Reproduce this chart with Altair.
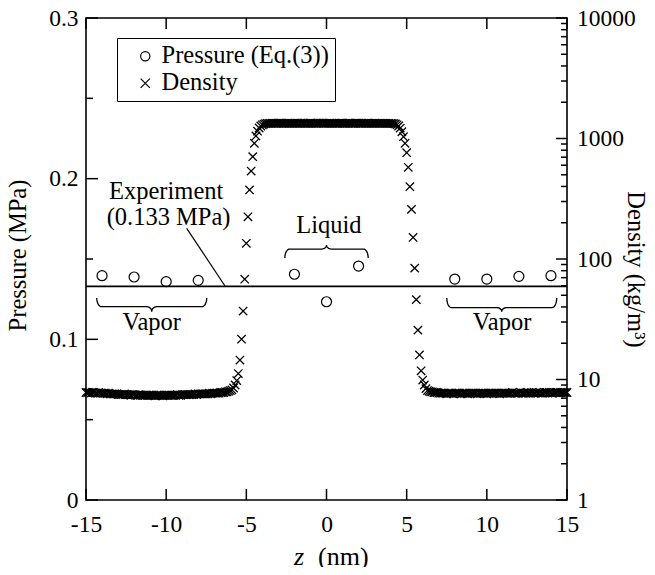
import math
import altair as alt
import pandas as pd

FONT = "'Liberation Serif', 'Times New Roman', Times, 'DejaVu Serif', serif"

# ---------------- data ----------------
pressure_z = [-14, -12, -10, -8, -2, 0, 2, 8, 10, 12, 14]
pressure_mpa = [0.1396, 0.1388, 0.1359, 0.1367, 0.1405, 0.1234, 0.1456,
                0.1375, 0.1375, 0.1392, 0.1396]

experiment_mpa = [0.133]

# density profile, sampled every 0.1 nm from z = -15.0 to 15.0
density_z_start = -15.0
density_z_step = 0.1
density_vapor_left = [
    7.8, 7.8, 7.8, 7.7, 7.8, 7.8, 7.7, 7.7, 7.8, 7.7, 7.7, 7.7, 7.7, 7.6, 7.7, 7.6, 7.6, 7.6, 7.6, 7.6, 7.5,
    7.5, 7.5, 7.5, 7.6, 7.5, 7.5, 7.5, 7.4, 7.5, 7.5, 7.4, 7.4, 7.5, 7.4, 7.4, 7.4, 7.4, 7.4, 7.4, 7.4,
    7.4, 7.4, 7.3, 7.4, 7.4, 7.4, 7.4, 7.3, 7.4, 7.4, 7.4, 7.4, 7.4, 7.4, 7.4, 7.4, 7.5, 7.4, 7.4, 7.5,
    7.5, 7.5, 7.5, 7.5, 7.5, 7.5, 7.5, 7.6, 7.5, 7.6, 7.6, 7.6, 7.6, 7.6, 7.6, 7.6, 7.7, 7.6, 7.7, 7.7,
    7.7, 7.7, 7.7, 7.8, 7.8, 7.8, 7.9, 7.9, 8.0, 8.1,
]
density_interface_left = [
    8.2, 8.5, 9.0, 9.8, 11.2, 14.5, 21.6, 37, 68, 135, 224, 374, 537, 706, 912,
    1050, 1150, 1222, 1270, 1300, 1318, 1328, 1333,
]
density_liquid = [
    1336, 1337, 1338, 1337, 1336, 1337, 1338, 1339, 1338, 1337,
    1336, 1337, 1338, 1337, 1336, 1335, 1336, 1337, 1338, 1337,
    1338, 1339, 1338, 1337, 1336, 1337, 1338, 1337, 1336, 1337,
    1338, 1339, 1340, 1339, 1338, 1337, 1336, 1337, 1338, 1337,
    1336, 1335, 1336, 1337, 1338, 1339, 1338, 1337, 1336, 1337,
    1338, 1337, 1336, 1337, 1338, 1339, 1338, 1337, 1338, 1337,
    1336, 1337, 1338, 1337, 1336, 1337, 1338, 1337, 1336, 1335,
    1336, 1337, 1336, 1335, 1334, 1335, 1334, 1333,
]
density_interface_right = [
    1330, 1320, 1300, 1270, 1220, 1138, 1035, 912, 762, 577, 398, 258, 151,
    84, 46, 25.7, 16.0, 11.8, 9.9, 9.0, 8.4,
]
density_vapor_right = [
    8.1, 8.0, 7.9, 7.9, 7.8, 7.8, 7.8, 7.7, 7.7, 7.7,
    7.7, 7.7, 7.6, 7.7, 7.7, 7.7, 7.6, 7.7, 7.7, 7.7, 7.7, 7.6, 7.7, 7.7, 7.7, 7.6, 7.7, 7.7, 7.7, 7.7,
    7.7, 7.6, 7.7, 7.7, 7.7, 7.7, 7.7, 7.6, 7.7, 7.7, 7.7, 7.7, 7.7, 7.7, 7.7, 7.6, 7.7, 7.7, 7.7, 7.7,
    7.7, 7.7, 7.7, 7.8, 7.7, 7.7, 7.7, 7.7, 7.8, 7.7, 7.7, 7.7, 7.8, 7.7, 7.7, 7.8, 7.7, 7.7, 7.8, 7.7,
    7.8, 7.7, 7.7, 7.8, 7.8, 7.7, 7.8, 7.8, 7.7, 7.8, 7.8, 7.8, 7.7, 7.8, 7.8, 7.8, 7.8, 7.8,
]

# axis ticks
x_ticks = [-15, -10, -5, 0, 5, 10, 15]
pressure_major = [0, 0.1, 0.2, 0.3]
pressure_minor = [0.05, 0.15, 0.25]
density_major = [1, 10, 100, 1000, 10000]
density_minor = [2, 3, 4, 5, 6, 7, 8, 9,
                 20, 30, 40, 50, 60, 70, 80, 90,
                 200, 300, 400, 500, 600, 700, 800, 900,
                 2000, 3000, 4000, 5000, 6000, 7000, 8000, 9000]

# annotations
note_text = ["Experiment", "(0.133 MPa)", "Liquid", "Vapor", "Vapor"]
note_z = [-10.0, -9.85, 0.15, -10.9, 10.95]
note_p = [0.1873, 0.1712, 0.1662, 0.1055, 0.1055]

pointer_z = [-8.72, -6.33]
pointer_p = [0.1691, 0.1332]

brace_z0 = [-14.33, -2.6, 7.5]
brace_z1 = [-7.47, 2.6, 14.36]
brace_p_end = [0.1257, 0.1506, 0.1257]
brace_p_bar = [0.1203, 0.1562, 0.1197]
brace_p_tip = [0.1172, 0.1587, 0.1172]
brace_radius = 0.3

series_names = ["Pressure (Eq.(3))", "Density"]
CROSS = "M-1,-1L1,1M1,-1L-1,1"

# ---------------- tables ----------------
density_values = (density_vapor_left + density_interface_left + density_liquid
                  + density_interface_right + density_vapor_right)
density_z = [round(density_z_start + density_z_step * i, 1) for i in range(len(density_values))]

pressure_df = pd.DataFrame({"z": pressure_z, "p": pressure_mpa, "series": series_names[0]})
density_df = pd.DataFrame({"z": density_z, "rho": density_values, "series": series_names[1]})


def brace_points(z0, z1, pe, pb, pt, r, n=8):
    c = (z0 + z1) / 2.0
    half = []
    for k in range(n + 1):
        t = (math.pi / 2) * k / n
        half.append((z0 + r * (1 - math.cos(t)), pe + (pb - pe) * math.sin(t)))
    for k in range(n + 1):
        t = (math.pi / 2) * k / n
        half.append((c - r + r * math.sin(t), pb + (pt - pb) * (1 - math.cos(t))))
    return half + [(2 * c - zz, pp) for (zz, pp) in reversed(half)]


brace_rows = []
for b in range(len(brace_z0)):
    pts = brace_points(brace_z0[b], brace_z1[b], brace_p_end[b], brace_p_bar[b],
                       brace_p_tip[b], brace_radius)
    for i, (zz, pp) in enumerate(pts):
        brace_rows.append({"id": b, "i": i, "z": zz, "p": pp})
brace_df = pd.DataFrame(brace_rows)

notes_df = pd.DataFrame({"text": note_text, "z": note_z, "p": note_p})
pointer_df = pd.DataFrame({"z": pointer_z, "p": pointer_p})

# ---------------- scales / axes ----------------
x_scale = alt.Scale(domain=[-15, 15], nice=False, zero=False)
p_scale = alt.Scale(domain=[0, 0.3], nice=False, zero=False)
d_scale = alt.Scale(type="log", domain=[1, 10000], nice=False)
shape_scale = alt.Scale(domain=series_names, range=["circle", CROSS])

W, H = 481, 482

legend = alt.Legend(
    title=None, orient="none", legendX=31, legendY=20,
    strokeColor="black", fillColor="white", padding=6,
    symbolOffset=10, labelOffset=4, labelFont=FONT, labelFontSize=24.5,
    labelColor="black", labelLimit=400, symbolSize=85, symbolStrokeWidth=1.2,
    symbolStrokeColor="black", symbolFillColor="transparent", rowPadding=2,
)

x_axis = alt.Axis(
    orient="bottom", values=x_ticks, ticks=False, domain=False, grid=False,
    labelFont=FONT, labelFontSize=23.5, labelColor="black", labelPadding=12,
    labelFlush=False, labelOverlap=False,
    labelExpr="replace(datum.label, '\u2212', '-')", title=None,
)

p_axis = alt.Axis(
    orient="left", values=pressure_major, format="~g", ticks=False, domain=False,
    grid=False, labelFont=FONT, labelFontSize=23.5, labelColor="black",
    labelPadding=8, labelFlush=False, labelOverlap=False,
    title="Pressure (MPa)", titleFont=FONT, titleFontSize=24.5, titleFontWeight="normal",
    titleColor="black", titleAngle=-90, titleX=-61, titleY=237, titleAlign="center",
    titleBaseline="alphabetic",
)

d_axis = alt.Axis(
    orient="right", values=density_major, format="d", ticks=False, domain=False,
    grid=False, labelFont=FONT, labelFontSize=23.5, labelColor="black",
    labelPadding=9.5, labelFlush=False, labelOverlap=False,
    title="Density (kg/m\u00b3)", titleFont=FONT, titleFontSize=24.5,
    titleFontWeight="normal", titleColor="black", titleAngle=90, titleX=60,
    titleY=251, titleAlign="center", titleBaseline="alphabetic",
)


def X(field):
    return alt.X(field, scale=x_scale, axis=x_axis)


# ---------------- layers ----------------
def rule_df(vals):
    return pd.DataFrame({"t": vals})


x_tick_top = alt.Chart(rule_df(x_ticks)).mark_rule(color="black", strokeWidth=1.5).encode(
    x=X("t:Q"), y=alt.value(0), y2=alt.value(11))
x_tick_bot = alt.Chart(rule_df(x_ticks)).mark_rule(color="black", strokeWidth=1.5).encode(
    x=X("t:Q"), y=alt.value(H), y2=alt.value(H - 11))
p_tick_major = alt.Chart(rule_df(pressure_major)).mark_rule(color="black", strokeWidth=1.5).encode(
    y=alt.Y("t:Q", scale=p_scale, axis=None), x=alt.value(0), x2=alt.value(12))
p_tick_minor = alt.Chart(rule_df(pressure_minor)).mark_rule(color="black", strokeWidth=1.5).encode(
    y=alt.Y("t:Q", scale=p_scale, axis=None), x=alt.value(0), x2=alt.value(7))
d_tick_major = alt.Chart(rule_df(density_major)).mark_rule(color="black", strokeWidth=1.5).encode(
    y=alt.Y("t:Q", scale=d_scale, axis=None), x=alt.value(W), x2=alt.value(W - 11))
d_tick_minor = alt.Chart(rule_df(density_minor)).mark_rule(color="black", strokeWidth=1.5).encode(
    y=alt.Y("t:Q", scale=d_scale, axis=None), x=alt.value(W), x2=alt.value(W - 6))

exp_line = alt.Chart(pd.DataFrame({"p": experiment_mpa})).mark_rule(
    color="black", strokeWidth=1.8).encode(y=alt.Y("p:Q", scale=p_scale, axis=None))

pointer = alt.Chart(pointer_df).mark_line(color="black", strokeWidth=1.2).encode(
    x=X("z:Q"), y=alt.Y("p:Q", scale=p_scale, axis=None))

braces = alt.Chart(brace_df).mark_line(color="black", strokeWidth=1.3).encode(
    x=X("z:Q"), y=alt.Y("p:Q", scale=p_scale, axis=None),
    detail="id:N", order="i:Q")

notes = alt.Chart(notes_df).mark_text(
    font=FONT, fontSize=24.5, color="black", align="center", baseline="alphabetic").encode(
    x=X("z:Q"), y=alt.Y("p:Q", scale=p_scale, axis=None), text="text:N")

density_layer = alt.Chart(density_df).mark_point(
    filled=False, color="black", size=70, strokeWidth=1.3, opacity=1).encode(
    x=X("z:Q"),
    y=alt.Y("rho:Q", scale=d_scale, axis=d_axis),
    shape=alt.Shape("series:N", scale=shape_scale, legend=legend))

pressure_layer = alt.Chart(pressure_df).mark_point(
    filled=False, color="black", size=100, strokeWidth=1.2, opacity=1).encode(
    x=X("z:Q"),
    y=alt.Y("p:Q", scale=p_scale, axis=p_axis),
    shape=alt.Shape("series:N", scale=shape_scale, legend=legend))

title_z = alt.Chart(pd.DataFrame({"t": ["z"]})).mark_text(
    font=FONT, fontSize=26, fontStyle="italic", color="black", align="center",
    baseline="alphabetic").encode(x=alt.value(213), y=alt.value(547), text="t:N")
title_nm = alt.Chart(pd.DataFrame({"t": ["(nm)"]})).mark_text(
    font=FONT, fontSize=26, color="black", align="left",
    baseline="alphabetic").encode(x=alt.value(232), y=alt.value(547), text="t:N")

chart = alt.layer(
    pressure_layer, density_layer,
    x_tick_top, x_tick_bot, p_tick_major, p_tick_minor, d_tick_major, d_tick_minor,
    exp_line, pointer, braces, notes, title_z, title_nm,
).resolve_scale(y="independent").properties(
    width=W, height=H,
    autosize=alt.AutoSizeParams(type="none"),
    padding={"left": 78, "top": 10, "right": 80, "bottom": 67},
).configure_view(stroke="black", strokeWidth=1.6)

chart.save("out.html", embed_options={"renderer": "svg", "actions": False})
